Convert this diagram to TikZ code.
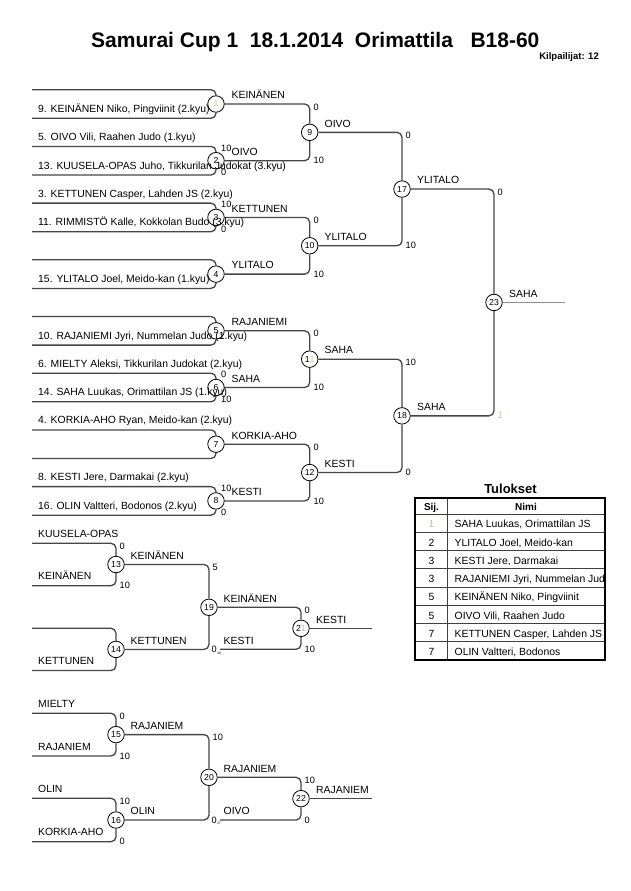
\documentclass[tikz,border=0pt]{standalone}
\usepackage{fontspec}
\setmainfont{Liberation Sans}
\definecolor{linecol}{RGB}{70,70,70}
\definecolor{faint}{RGB}{205,195,150}
\newcommand\faintone{\textcolor{faint}{1}}
\begin{document}
\begin{tikzpicture}[x=1pt,y=-1pt,
  br/.style={draw=linecol, line width=1.3pt, rounded corners=5pt},
  mc/.style={circle, draw=black, fill=white, line width=0.8pt, minimum size=16.5pt, inner sep=0pt, font=\fontsize{8.7}{9}\selectfont},
  nm/.style={anchor=base west, inner sep=0pt, font=\fontsize{10.4}{12}\selectfont},
  sc/.style={anchor=north west, inner sep=0pt, font=\fontsize{9.2}{10}\selectfont},
  tiny/.style={anchor=north west, inner sep=0pt, font=\fontsize{3.5}{4}\selectfont},
  tb/.style={anchor=base, inner sep=0pt, font=\fontsize{10.4}{12}\selectfont},
  tbh/.style={anchor=base, inner sep=0pt, font=\fontsize{10}{12}\selectfont\bfseries},
]
\useasboundingbox[fill=white] (0,0) rectangle (630,891);

% ---------- title ----------
\node[anchor=base west, inner sep=0pt, font=\fontsize{21}{24}\selectfont\bfseries] (title) at (91,48)
  {Samurai Cup 1\hspace{0.556em}18.1.2014\hspace{0.556em}Orimattila\hspace{0.834em}B18-60};
\node[anchor=base east, inner sep=0pt, font=\fontsize{9.5}{11}\selectfont\bfseries] (kil) at (599,59.5) {Kilpailijat: 12};

% ---------- circles ----------
\node[mc] (m1) at (216,104) {\faintone};
\node[mc] (m2) at (216,160.7) {2};
\node[mc] (m3) at (216,217.4) {3};
\node[mc] (m4) at (216,274.1) {4};
\node[mc] (m5) at (216,330.8) {5};
\node[mc] (m6) at (216,387.5) {6};
\node[mc] (m7) at (216,444.2) {7};
\node[mc] (m8) at (216,500.9) {8};
\node[mc] (m9) at (309.7,132.35) {9};
\node[mc] (m10) at (309.7,245.75) {10};
\node[mc] (m11) at (309.7,359.15) {1\faintone};
\node[mc] (m12) at (309.7,472.55) {12};
\node[mc] (m17) at (402,189.05) {17};
\node[mc] (m18) at (402,415.85) {18};
\node[mc] (m23) at (494,302.45) {23};
\node[mc] (m13) at (116,564.5) {13};
\node[mc] (m14) at (116,649.4) {14};
\node[mc] (m19) at (209,607.3) {19};
\node[mc] (m21) at (301,628.3) {2\faintone};
\node[mc] (m15) at (116,734.6) {15};
\node[mc] (m16) at (116,820) {16};
\node[mc] (m20) at (209,777.3) {20};
\node[mc] (m22) at (301,798.6) {22};

% ---------- free ends ----------
\coordinate (a1t) at (32,89.7);  \coordinate (a1b) at (32,118.3);
\coordinate (a2t) at (32,146.4); \coordinate (a2b) at (32,175.0);
\coordinate (a3t) at (32,203.1); \coordinate (a3b) at (32,231.7);
\coordinate (a4t) at (32,259.8); \coordinate (a4b) at (32,288.4);
\coordinate (a5t) at (32,316.5); \coordinate (a5b) at (32,345.1);
\coordinate (a6t) at (32,373.2); \coordinate (a6b) at (32,401.8);
\coordinate (a7t) at (32,429.9); \coordinate (a7b) at (32,458.5);
\coordinate (a8t) at (32,486.6); \coordinate (a8b) at (32,515.2);
\coordinate (e23) at (565,302.45);
\coordinate (r13t) at (32,543.3); \coordinate (r13b) at (32,585.7);
\coordinate (r14t) at (32,628.3); \coordinate (r14b) at (32,670.5);
\coordinate (r15t) at (32,713.3); \coordinate (r15b) at (32,756);
\coordinate (r16t) at (32,798.3); \coordinate (r16b) at (32,841.7);
\coordinate (k21) at (220,649.3); \coordinate (k22) at (220,820);
\coordinate (e21) at (372,628.3); \coordinate (e22) at (372,798.6);

% ---------- connectors ----------
\foreach \i in {1,...,8} {
  \draw[br] (a\i t) -| (m\i);
  \draw[br] (a\i b) -| (m\i);
}
\draw[br] (m1) -| (m9);  \draw[br] (m2) -| (m9);
\draw[br] (m3) -| (m10); \draw[br] (m4) -| (m10);
\draw[br] (m5) -| (m11); \draw[br] (m6) -| (m11);
\draw[br] (m7) -| (m12); \draw[br] (m8) -| (m12);
\draw[br] (m9) -| (m17); \draw[br] (m10) -| (m17);
\draw[br] (m11) -| (m18); \draw[br] (m12) -| (m18);
\draw[br] (m17) -| (m23); \draw[br] (m18) -| (m23);
\draw[br, draw=black!45] (m23) -- (e23);

\draw[br] (r13t) -| (m13); \draw[br] (r13b) -| (m13);
\draw[br] (r14t) -| (m14); \draw[br] (r14b) -| (m14);
\draw[br] (m13) -| (m19); \draw[br] (m14) -| (m19);
\draw[br] (m19) -| (m21); \draw[br] (k21) -| (m21);
\draw[br] (m21) -- (e21);
\draw[br] (r15t) -| (m15); \draw[br] (r15b) -| (m15);
\draw[br] (r16t) -| (m16); \draw[br] (r16b) -| (m16);
\draw[br] (m15) -| (m20); \draw[br] (m16) -| (m20);
\draw[br] (m20) -| (m22); \draw[br] (k22) -| (m22);
\draw[br] (m22) -- (e22);

% ---------- player names ----------
\node[nm] (p1b) at (38,112.3) {9. KEINÄNEN Niko, Pingviinit (2.kyu)};
\node[nm] (p2t) at (38,140.4) {5. OIVO Vili, Raahen Judo (1.kyu)};
\node[nm] (p2b) at (38,169.0) {13. KUUSELA-OPAS Juho, Tikkurilan Judokat (3.kyu)};
\node[nm] (p3t) at (38,197.1) {3. KETTUNEN Casper, Lahden JS (2.kyu)};
\node[nm] (p3b) at (38,225.7) {11. RIMMISTÖ Kalle, Kokkolan Budo (3.kyu)};
\node[nm] (p4b) at (38,282.4) {15. YLITALO Joel, Meido-kan (1.kyu)};
\node[nm] (p5b) at (38,339.1) {10. RAJANIEMI Jyri, Nummelan Judo (1.kyu)};
\node[nm] (p6t) at (38,367.2) {6. MIELTY Aleksi, Tikkurilan Judokat (2.kyu)};
\node[nm] (p6b) at (38,395.8) {14. SAHA Luukas, Orimattilan JS (1.kyu)};
\node[nm] (p7t) at (38,423.9) {4. KORKIA-AHO Ryan, Meido-kan (2.kyu)};
\node[nm] (p8t) at (38,480.6) {8. KESTI Jere, Darmakai (2.kyu)};
\node[nm] (p8b) at (38,509.2) {16. OLIN Valtteri, Bodonos (2.kyu)};

% ---------- winner labels ----------
\node[nm] (w1) at (231.5,98.8) {KEINÄNEN};
\node[nm] (w2) at (231.5,155.5) {OIVO};
\node[nm] (w3) at (231.5,212.2) {KETTUNEN};
\node[nm] (w4) at (231.5,268.9) {YLITALO};
\node[nm] (w5) at (231.5,325.6) {RAJANIEMI};
\node[nm] (w6) at (231.5,382.3) {SAHA};
\node[nm] (w7) at (231.5,439.0) {KORKIA-AHO};
\node[nm] (w8) at (231.5,495.7) {KESTI};
\node[nm] (w9) at (324.5,127.1) {OIVO};
\node[nm] (w10) at (324.5,240.5) {YLITALO};
\node[nm] (w11) at (324.5,353.9) {SAHA};
\node[nm] (w12) at (324.5,467.3) {KESTI};
\node[nm] (w17) at (417,183.8) {YLITALO};
\node[nm] (w18) at (417,410.6) {SAHA};
\node[nm] (w23) at (509,297.2) {SAHA};

% ---------- repechage labels ----------
\node[nm] (q13t) at (38,537.3) {KUUSELA-OPAS};
\node[nm] (q13b) at (38,579.7) {KEINÄNEN};
\node[nm] (q14b) at (38,664.5) {KETTUNEN};
\node[nm] (w13) at (130.5,559.3) {KEINÄNEN};
\node[nm] (w14) at (130.5,644.2) {KETTUNEN};
\node[nm] (w19) at (223.5,602.1) {KEINÄNEN};
\node[nm] (l21) at (223.5,644.1) {KESTI};
\node[nm] (w21) at (316,623.1) {KESTI};
\node[nm] (q15t) at (38,707.3) {MIELTY};
\node[nm] (q15b) at (38,750) {RAJANIEM};
\node[nm] (q16t) at (38,792.3) {OLIN};
\node[nm] (q16b) at (38,835.7) {KORKIA-AHO};
\node[nm] (w15) at (130.5,729.4) {RAJANIEM};
\node[nm] (w16) at (130.5,814.8) {OLIN};
\node[nm] (w20) at (223.5,772.1) {RAJANIEM};
\node[nm] (l22) at (223.5,814.8) {OIVO};
\node[nm] (w22) at (316,793.4) {RAJANIEM};

% ---------- scores ----------
\node[sc] (s2t) at (221,144.4) {10}; \node[sc] (s2b) at (221,169) {0};
\node[sc] (s3t) at (221,201.1) {10}; \node[sc] (s3b) at (221,225.7) {0};
\node[sc] (s6t) at (221,371.2) {0};  \node[sc] (s6b) at (221,395.8) {10};
\node[sc] (s8t) at (221,484.6) {10}; \node[sc] (s8b) at (221,509.2) {0};
\node[sc] (s9t) at (313.5,103.5) {0};    \node[sc] (s9b) at (313.5,157.2) {10};
\node[sc] (s10t) at (313.5,216.9) {0};   \node[sc] (s10b) at (313.5,270.6) {10};
\node[sc] (s11t) at (313.5,330.3) {0};   \node[sc] (s11b) at (313.5,384) {10};
\node[sc] (s12t) at (313.5,443.7) {0};   \node[sc] (s12b) at (313.5,497.4) {10};
\node[sc] (s17t) at (405.5,131.85) {0};  \node[sc] (s17b) at (405.5,242.25) {10};
\node[sc] (s18t) at (405.5,358.65) {10}; \node[sc] (s18b) at (405.5,469.05) {0};
\node[sc] (s23t) at (497.5,188.55) {0};  \node[sc] (s23b) at (497.5,412.35) {\faintone};
\node[sc] (s13t) at (119.5,542.8) {0};   \node[sc] (s13b) at (119.5,582.2) {10};
\node[sc] (s19t) at (212.5,564) {5};     \node[sc] (s19b) at (211.5,645.8) {0};
\node[tiny] (s19x) at (216.8,651.6) {18};
\node[sc] (s21t) at (304.5,606.8) {0};   \node[sc] (s21b) at (304.5,645.8) {10};
\node[sc] (s15t) at (119.5,712.8) {0};   \node[sc] (s15b) at (119.5,752.5) {10};
\node[sc] (s16t) at (119.5,797.8) {10};  \node[sc] (s16b) at (119.5,838.2) {0};
\node[sc] (s20t) at (212.5,734.1) {10};  \node[sc] (s20b) at (211.5,816.5) {0};
\node[tiny] (s20x) at (216.8,822.3) {17};
\node[sc] (s22t) at (304.5,776.8) {10};  \node[sc] (s22b) at (304.5,816.5) {0};

% ---------- results table ----------
\node[anchor=base, inner sep=0pt, font=\fontsize{13}{15}\selectfont\bfseries] (tul) at (510.5,493.3) {Tulokset};
\foreach \yy in {514,532.25,550.5,568.75,587,605.25,623.5,641.75}
  \draw[black!75, line width=0.9pt] (415,\yy) -- (605,\yy);
\draw[black!75, line width=0.9pt] (447,498) -- (447,660);
\draw[black, line width=2pt] (415,498) rectangle (605,660);
\node[tbh] (hs) at (431.5,510.5) {Sij.};
\node[tbh] (hn) at (526,510.5) {Nimi};
\node[tb] (r1s) at (431.5,527.8) {\faintone};
\node[tb] (r2s) at (431.5,546.05) {2};
\node[tb] (r3s) at (431.5,564.3) {3};
\node[tb] (r4s) at (431.5,582.55) {3};
\node[tb] (r5s) at (431.5,600.8) {5};
\node[tb] (r6s) at (431.5,619.05) {5};
\node[tb] (r7s) at (431.5,637.3) {7};
\node[tb] (r8s) at (431.5,655.55) {7};
\begin{scope}
\clip (447,498) rectangle (604,660);
\node[nm] (r1n) at (454.5,527.8) {SAHA Luukas, Orimattilan JS};
\node[nm] (r2n) at (454.5,546.05) {YLITALO Joel, Meido-kan};
\node[nm] (r3n) at (454.5,564.3) {KESTI Jere, Darmakai};
\node[nm] (r4n) at (454.5,582.55) {RAJANIEMI Jyri, Nummelan Judo};
\node[nm] (r5n) at (454.5,600.8) {KEINÄNEN Niko, Pingviinit};
\node[nm] (r6n) at (454.5,619.05) {OIVO Vili, Raahen Judo};
\node[nm] (r7n) at (454.5,637.3) {KETTUNEN Casper, Lahden JS};
\node[nm] (r8n) at (454.5,655.55) {OLIN Valtteri, Bodonos};
\end{scope}
\end{tikzpicture}
\end{document}
